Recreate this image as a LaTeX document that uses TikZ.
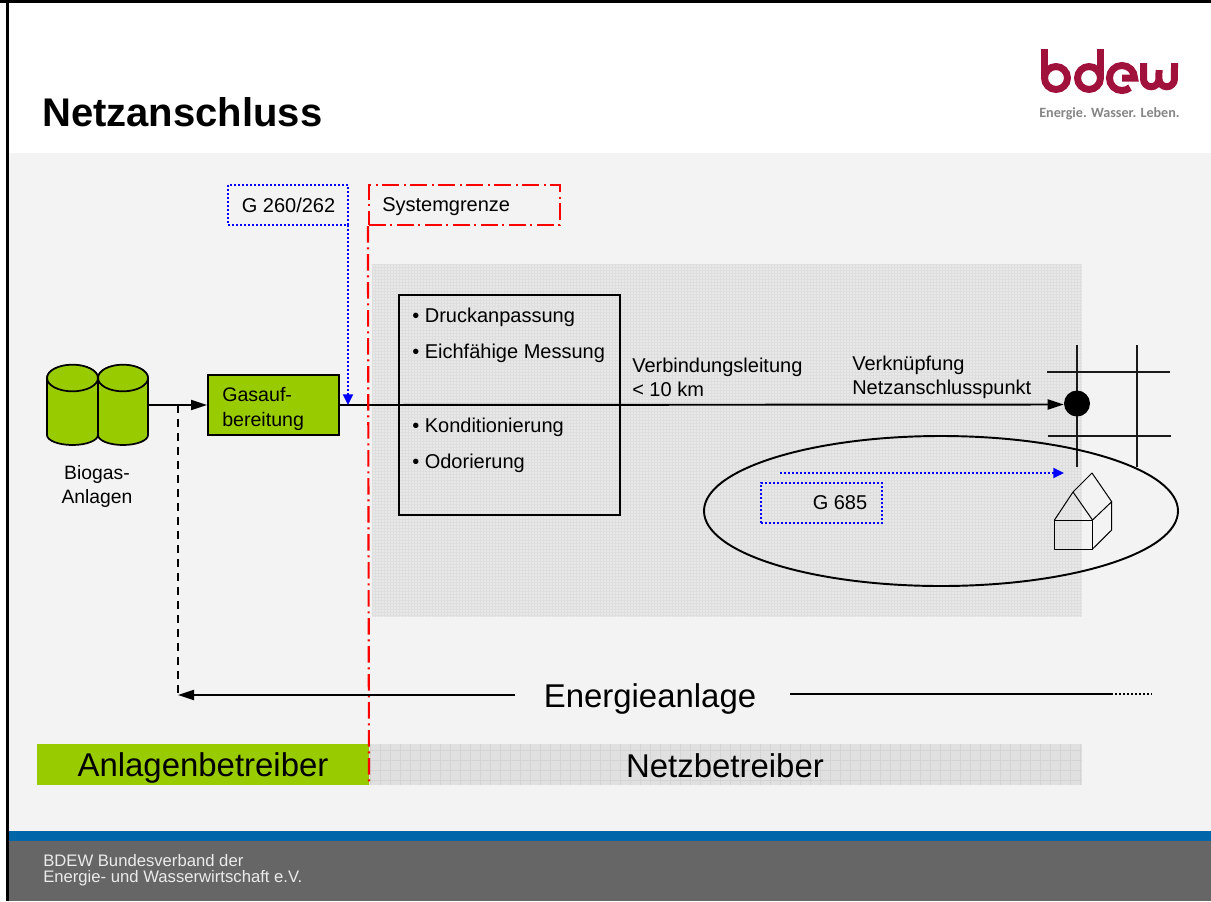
\documentclass[tikz,border=0pt]{standalone}
\usepackage{fontspec}
\setmainfont{Liberation Sans}
\newfontfamily\logofont{Carlito}
\usetikzlibrary{arrows.meta,shapes.geometric}
\definecolor{pagebg}{HTML}{F3F3F3}
\definecolor{leaf}{HTML}{99CC00}
\definecolor{blueband}{HTML}{0066AA}
\definecolor{footgray}{HTML}{666666}
\definecolor{crimson}{HTML}{A0123C}
\definecolor{logogray}{HTML}{858585}
\tikzset{
  x=0.75pt,y=-0.75pt,
  tip/.style={-{Triangle[length=12pt,width=7.5pt]}},
  bluetip/.style={-{Triangle[length=8pt,width=7.5pt]}},
  conn/.style={line width=1.45pt,black},
  dots/.style={blue,line width=1.6pt,dash pattern=on 1.5pt off 1.5pt},
  redline/.style={red,line width=1.6pt,dash pattern=on 12.5pt off 3.5pt on 1.5pt off 3.5pt},
  txt/.style={inner sep=0pt,font=\fontsize{15}{18}\selectfont,align=left},
  big/.style={inner sep=0pt,font=\fontsize{24.7}{28}\selectfont},
  netz/.style={line width=1.45pt,black!90},
  logo/.style={crimson,line width=5.25pt,line cap=butt},
  cyl/.style={fill=leaf,draw=black,line width=1.3pt,line join=round},
}
\begin{document}
\begin{tikzpicture}
\useasboundingbox (0,0) rectangle (1211,901);
% page
\fill[white] (0,0) rectangle (1211,153);
\fill[pagebg] (0,153) rectangle (1211,831);
\fill[blueband] (0,831) rectangle (1211,841);
\fill[footgray] (0,841) rectangle (1211,901);
\fill[black] (0,0) rectangle (1211,3);
\fill[black] (6,0) rectangle (9,901);
\fill[white] (0,3) rectangle (6,901);
% title
\node[anchor=base west,inner sep=0pt,font=\bfseries\fontsize{30}{36}\selectfont] (title) at (42,126) {Netzanschluss};
% logo
\draw[logo] (1044.5,49) -- (1044.5,78);
\draw[logo] (1056,78) circle[radius=8.6pt];
\draw[logo] (1100.5,49) -- (1100.5,78);
\draw[logo] (1089,78) circle[radius=8.6pt];
\draw[logo] (1122,78) -- (1134.5,78) arc[start angle=0,end angle=310,radius=9.4pt];
\draw[logo] (1143.5,63) -- (1143.5,79) arc[start angle=180,end angle=360,radius=5.8pt] -- (1159,70)
  (1159,79) arc[start angle=180,end angle=360,radius=5.8pt] -- (1174.5,63);
\node[anchor=center,inner sep=0pt,text=logogray,font=\logofont\bfseries\fontsize{10.6}{12}\selectfont] (slogan) at (1109.5,113.5) {Energie. Wasser. Leben.};
% textured areas
\fill[black!9] (372,264) rectangle (1082,617);
\draw[black!13,line width=.25pt,step=2.25pt] (372,264) grid (1082,617);
\fill[black!12] (369,744) rectangle (1082,785);
\draw[black!17,line width=.3pt,step=7.5pt] (369,744) grid (1082,785);
\fill[leaf] (37,744) rectangle (369,785);
\node[big] (ab) at (203,768) {Anlagenbetreiber};
\node[big] (nb) at (725,766) {Netzbetreiber};
% boxes of measures
\node[draw=black,line width=1.3pt,minimum width=165.75pt,minimum height=165pt,inner sep=0pt] (mass) at (509.5,405) {};
\node[txt,anchor=west] (t1) at (412,317) {• Druckanpassung};
\node[txt,anchor=west] (t2) at (412,353) {• Eichfähige Messung};
\node[txt,anchor=west] (t3) at (412,427) {• Konditionierung};
\node[txt,anchor=west] (t4) at (412,463) {• Odorierung};
% net
\coordinate (v1a) at (1077,345); \coordinate (v1b) at (1077,467);
\coordinate (v2a) at (1137,345); \coordinate (v2b) at (1137,467);
\coordinate (h1a) at (1047,372); \coordinate (h1b) at (1170,372);
\coordinate (h2a) at (1048,436); \coordinate (h2b) at (1171,436);
\draw[netz] (v1a) -- (v1b);
\draw[netz] (v2a) -- (v2b);
\draw[netz] (h1a) -- (h1b);
\draw[netz] (h2a) -- (h2b);
\node[circle,fill=black,minimum size=19.5pt,inner sep=0pt] (np) at (1077,403.5) {};
% ellipse
\node[ellipse,draw=black,line width=1.45pt,minimum width=355.5pt,minimum height=112.5pt,inner sep=0pt] (ell) at (941,511) {};
% house
\draw[black,line width=.75pt,line join=round] (1054.5,520) rectangle (1092.5,549);
\draw[black,line width=.75pt,line join=round] (1054.5,520) -- (1073,492) -- (1092.5,520) -- (1111.7,501.7) -- (1092,473) -- (1073,492);
\draw[black,line width=.75pt,line join=round] (1111.7,501.7) -- (1111.7,530) -- (1092.5,549);
% G 685
\node[draw=blue,dots,minimum width=90.75pt,minimum height=30pt,inner sep=0pt] (g685) at (821.5,503) {};
\node[txt] (g685t) at (840,503) {G 685};
\coordinate (ga) at (780,473); \coordinate (gb) at (1064,473);
\draw[dots] (ga) -- (1054,473);
\draw[blue,bluetip,line width=1.5pt] (1056,473) -- (gb);
% cylinders
\path[cyl] (98,378) -- (98,435) arc[start angle=180,end angle=360,x radius=18.75pt,y radius=7.5pt] -- (148,378) arc[start angle=0,end angle=180,x radius=18.75pt,y radius=9.75pt];
\draw[cyl] (123,378) ellipse[x radius=18.75pt,y radius=10pt];
\path[cyl] (47,378) -- (47,435) arc[start angle=180,end angle=360,x radius=19.1pt,y radius=7.5pt] -- (98,378) arc[start angle=0,end angle=180,x radius=19.1pt,y radius=9.75pt];
\draw[cyl] (72.5,378) ellipse[x radius=19.1pt,y radius=10pt];
\coordinate (cylout) at (148,405);
\node[txt,align=center,font=\fontsize{14.5}{18}\selectfont] (bio) at (97,486) {Biogas-\\Anlagen};
% process
\node[draw=black,fill=leaf,line width=1.45pt,minimum width=98.25pt,minimum height=45pt,inner sep=0pt] (gas) at (273.5,405) {};
\node[txt,anchor=west,font=\fontsize{14.7}{18.75}\selectfont] (gast) at (222,409) {Gasauf-\\bereitung};
\draw[conn,tip] (cylout) -- (gas.west);
\node[circle,inner sep=0pt,minimum size=0pt] (npin) at (1064,404.5) {};
\draw[conn,tip] (gas.east) -- (npin);
% standards
\node[draw=blue,dots,minimum width=90pt,minimum height=30pt,inner sep=0pt] (g260) at (288,205) {};
\node[txt] (g260t) at (288.5,205) {G 260/262};
\coordinate (g260o) at (348,225); \coordinate (g260i) at (348,405);
\draw[dots] (g260o) -- (348,395);
\draw[blue,bluetip,line width=1.5pt] (348,396) -- (g260i);
% system boundary
\node[draw=red,redline,minimum width=143.25pt,minimum height=30pt,inner sep=0pt] (sys) at (464.5,205) {};
\node[txt,anchor=west] (syst) at (382,207) {Systemgrenze};
\coordinate (sysb) at (369,785);
\draw[redline] (sys.south west) -- (sysb);
% line labels
\node[txt,anchor=west,font=\fontsize{15}{18}\selectfont] (l1) at (632,377) {Verbindungsleitung\\< 10 km};
\node[txt,anchor=west,font=\fontsize{15}{18}\selectfont] (l2) at (852,377) {Verknüpfung\\Netzanschlusspunkt};
% Energieanlage
\node[big] (ea) at (650,699) {Energieanlage};
\coordinate (retur) at (178,695);
\coordinate (etap) at (178,405);
\coordinate (la) at (515,695);
\coordinate (ra) at (790,694);
\coordinate (rb) at (1111,694);
\coordinate (rc) at (1152,694);
\draw[conn,tip] (la) -- (retur);
\draw[conn] (ra) -- (rb);
\draw[line width=1.45pt,dash pattern=on 1.5pt off 1.5pt] (rb) -- (rc);
\draw[line width=1.3pt,dash pattern=on 6pt off 4.5pt] (etap) -- (retur);
% footer
\node[anchor=west,inner sep=0pt,text=white!92!black,font=\fontsize{12.5}{12}\selectfont,align=left] (foot) at (43,870.5) {BDEW Bundesverband der\\Energie- und Wasserwirtschaft e.V.};
\end{tikzpicture}
\end{document}
